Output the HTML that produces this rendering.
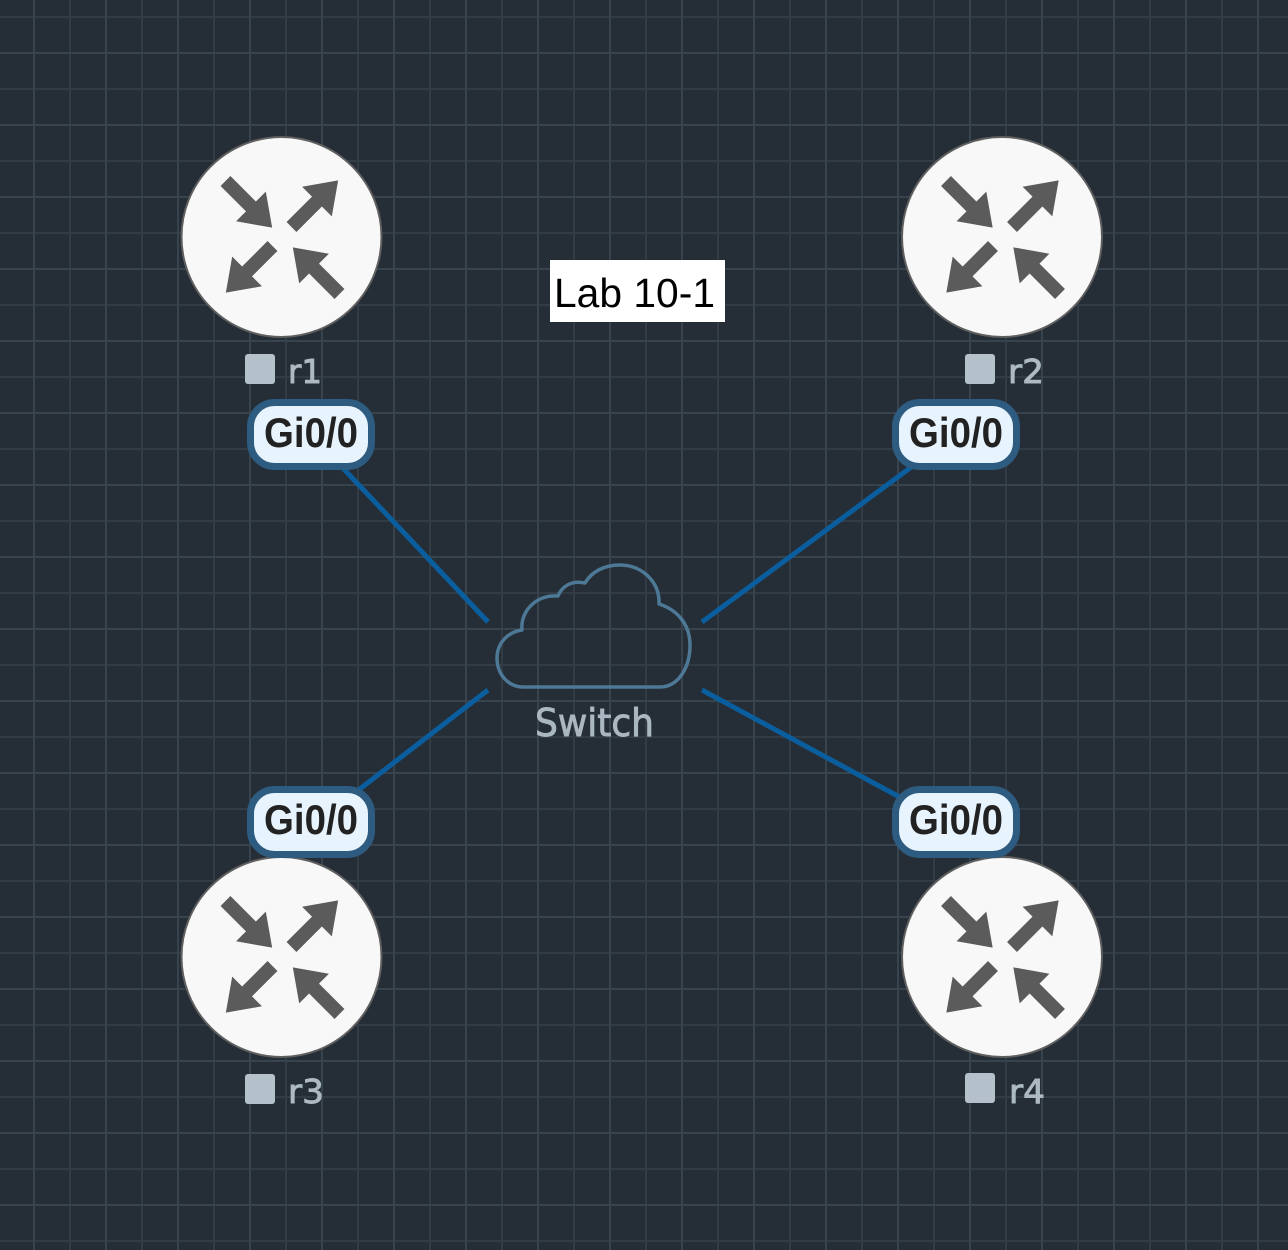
<!DOCTYPE html>
<html>
<head>
<meta charset="utf-8">
<style>
  html, body { margin: 0; padding: 0; background: #252d36; }
  svg { display: block; }
</style>
</head>
<body>
<svg width="1288" height="1250" viewBox="0 0 1288 1250" xmlns="http://www.w3.org/2000/svg">
  <defs>
    <pattern id="grid" x="-3" y="16" width="72" height="72" patternUnits="userSpaceOnUse">
      <rect x="0" y="0" width="72" height="72" fill="#252d36"/>
      <rect x="0" y="0" width="2" height="72" fill="#313c45"/>
      <rect x="0" y="0" width="72" height="2" fill="#313c45"/>
      <rect x="36" y="0" width="2" height="72" fill="#37444d"/>
      <rect x="0" y="36" width="72" height="2" fill="#37444d"/>
    </pattern>
    <g id="router">
      <circle cx="0" cy="0" r="100" fill="#f8f8f8" stroke="#5f5f5f" stroke-width="2"/>
      <g fill="#5b5b5b">
        <path d="M0,-7 H36 V-21 L66,0 L36,21 V7 H0 Z" transform="translate(-56,-56) rotate(45)"/>
        <path d="M0,-7 H36 V-21 L66,0 L36,21 V7 H0 Z" transform="translate(10,-10) rotate(-45)"/>
        <path d="M0,-7 H36 V-21 L66,0 L36,21 V7 H0 Z" transform="translate(-9,9) rotate(135)"/>
        <path d="M0,-7 H36 V-21 L66,0 L36,21 V7 H0 Z" transform="translate(58,57) rotate(-135)"/>
      </g>
    </g>
  </defs>

  <rect x="0" y="0" width="1288" height="1250" fill="url(#grid)"/>

  <!-- links -->
  <g stroke="#0b5e9e" stroke-width="5" stroke-linecap="butt">
    <line x1="340" y1="465" x2="488" y2="622"/>
    <line x1="918" y1="462" x2="702" y2="622"/>
    <line x1="488" y1="690" x2="352" y2="795"/>
    <line x1="702" y1="690" x2="905" y2="800"/>
  </g>

  <!-- routers -->
  <use href="#router" x="281.5" y="237"/>
  <use href="#router" x="1002" y="237"/>
  <use href="#router" x="281.5" y="957"/>
  <use href="#router" x="1002" y="957"/>

  <!-- router labels -->
  <g fill="#b5c1ca">
    <rect x="245" y="354" width="30" height="30" rx="3"/>
    <rect x="965" y="354" width="30" height="30" rx="3"/>
    <rect x="245" y="1074" width="30" height="30" rx="3"/>
    <rect x="965" y="1073" width="30" height="30" rx="3"/>
  </g>
  <g fill="#adb9c3" stroke="#adb9c3" stroke-width="0.9" font-family="'DejaVu Sans', 'Liberation Sans', sans-serif" font-size="33">
    <text x="288" y="383" textLength="34" lengthAdjust="spacingAndGlyphs">r1</text>
    <text x="1008" y="383" textLength="36" lengthAdjust="spacingAndGlyphs">r2</text>
    <text x="288" y="1103" textLength="36" lengthAdjust="spacingAndGlyphs">r3</text>
    <text x="1009" y="1103" textLength="36" lengthAdjust="spacingAndGlyphs">r4</text>
  </g>

  <!-- cloud -->
  <path d="M523,687 C508,687 497,674 497,658 C497,643 508,632 522,630 C520,610 538,594 558,596 C562,586 572,580 585,583 C592,571 605,565 620,565 C642,565 660,582 659,604 C678,610 690,625 690,645 C690,668 678,687 660,687 Z"
        fill="none" stroke="#4d7896" stroke-width="3.5" stroke-linejoin="round"/>
  <text x="535" y="736" fill="#aab7c1" stroke="#aab7c1" stroke-width="0.9" font-family="'DejaVu Sans', 'Liberation Sans', sans-serif" font-size="38" textLength="119" lengthAdjust="spacingAndGlyphs">Switch</text>

  <!-- title -->
  <rect x="550" y="260" width="175" height="62" fill="#ffffff"/>
  <text x="554" y="307" fill="#000000" font-family="'Liberation Sans', Arial, sans-serif" font-size="41" textLength="161" lengthAdjust="spacingAndGlyphs">Lab 10-1</text>

  <!-- interface labels -->
  <g fill="#e8f4fd" stroke="#2e5b80" stroke-width="7">
    <rect x="250.5" y="402.5" width="121" height="64" rx="24"/>
    <rect x="895.5" y="402.5" width="121" height="64" rx="24"/>
    <rect x="250.5" y="789.5" width="121" height="65" rx="24"/>
    <rect x="895.5" y="789.5" width="121" height="65" rx="24"/>
  </g>
  <g fill="#222222" font-family="'Liberation Sans', Arial, sans-serif" font-weight="bold" font-size="42">
    <text x="264" y="447" textLength="94" lengthAdjust="spacingAndGlyphs">Gi0/0</text>
    <text x="909" y="447" textLength="94" lengthAdjust="spacingAndGlyphs">Gi0/0</text>
    <text x="264" y="834" textLength="94" lengthAdjust="spacingAndGlyphs">Gi0/0</text>
    <text x="909" y="834" textLength="94" lengthAdjust="spacingAndGlyphs">Gi0/0</text>
  </g>
</svg>
</body>
</html>
